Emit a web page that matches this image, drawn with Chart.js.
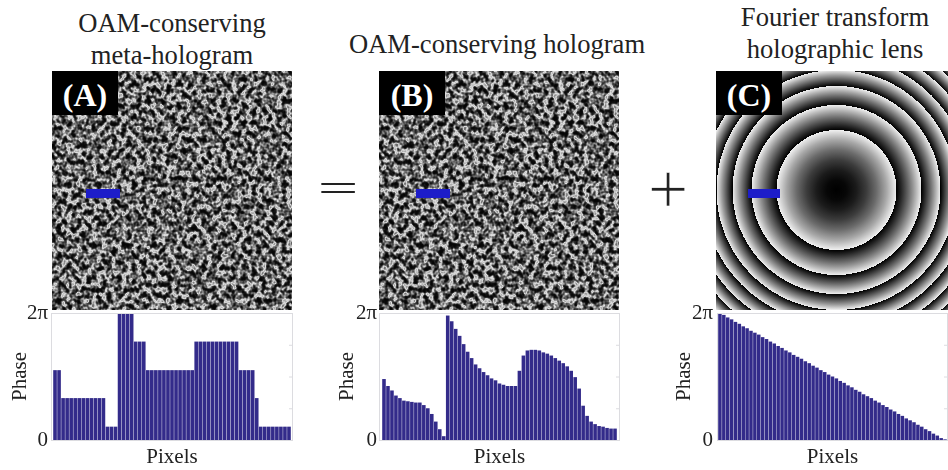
<!DOCTYPE html>
<html>
<head>
<meta charset="utf-8">
<script src="https://cdn.jsdelivr.net/npm/chart.js@4"></script>
<style>
  html, body { margin: 0; background: #fff; }
  #page { position: relative; width: 948px; height: 470px; overflow: hidden; font-family: "Liberation Serif", serif; color: #222; }
  .title { position: absolute; font-size: 26.6px; line-height: 32px; text-align: center; white-space: nowrap; transform: translateX(-50%); }
  .panel { position: absolute; top: 71px; height: 239px; overflow: hidden; }
  .tag { position: absolute; top: 71px; width: 66px; height: 44px; background: #000; color: #fff; font-weight: bold; font-size: 32px; line-height: 48px; text-align: center; }
  .mark { position: absolute; top: 189px; height: 9px; background: #1d1dc9; filter: blur(0.5px); }
  .sign { position: absolute; line-height: 72px; color: #222; }
  canvas { position: absolute; top: 300px; filter: blur(0.5px); }
  svg { display: block; }
</style>
</head>
<body>
<div id="page">
  <div class="title" style="left:172px;top:7px">OAM-conserving<br>meta-hologram</div>
  <div class="title" style="left:497px;top:28px">OAM-conserving hologram</div>
  <div class="title" style="left:835px;top:1px">Fourier transform<br>holographic lens</div>

  <div class="panel" style="left:52px;width:240px"><svg width="240" height="239"><rect width="240" height="239" filter="url(#holo)"/></svg></div>
  <div class="panel" style="left:379px;width:240px"><svg width="240" height="239"><rect width="240" height="239" filter="url(#holo)"/></svg></div>
  <div class="panel" id="lens" style="left:716px;width:232px"></div>

  <svg width="0" height="0" style="position:absolute">
    <filter id="holo" x="0" y="0" width="100%" height="100%" color-interpolation-filters="sRGB">
      <feTurbulence type="fractalNoise" baseFrequency="0.2 0.18" numOctaves="2" seed="7"/>
      <feColorMatrix type="matrix" values="1 0 0 0 0  1 0 0 0 0  1 0 0 0 0  0 0 0 0 1"/>
      <feComponentTransfer>
        <feFuncR type="table" tableValues="0.02 0.02 0.02 0.03 0.08 0.25 0.52 0.88 0.72 0.45 0.4 0.4"/>
        <feFuncG type="table" tableValues="0.02 0.02 0.02 0.03 0.08 0.25 0.52 0.88 0.72 0.45 0.4 0.4"/>
        <feFuncB type="table" tableValues="0.02 0.02 0.02 0.03 0.08 0.25 0.52 0.88 0.72 0.45 0.4 0.4"/>
      </feComponentTransfer>
      <feGaussianBlur stdDeviation="0.7"/>
    </filter>
  </svg>

  <div class="tag" style="left:52px">(A)</div>
  <div class="tag" style="left:379px">(B)</div>
  <div class="tag" style="left:716px">(C)</div>

  <div class="mark" style="left:86px;width:34px"></div>
  <div class="mark" style="left:416px;width:34px"></div>
  <div class="mark" style="left:748px;width:32px"></div>

  <div class="sign" style="left:338px;top:153px;font-size:40px;transform:translateX(-50%) scaleX(1.8)">=</div>
  <div class="sign" style="left:668px;top:153px;font-size:72px;transform:translateX(-50%);-webkit-text-stroke:0.7px #fff">+</div>

  <canvas id="chartA" width="310" height="170" style="left:0"></canvas>
  <canvas id="chartB" width="310" height="170" style="left:330px"></canvas>
  <canvas id="chartC" width="278" height="170" style="left:670px"></canvas>
</div>

<script>
// Pha doc tu hinh, don vi la pi (2 = 2π)
const metaPhase = [
  1.10, 1.10,
  0.66, 0.66, 0.66, 0.66, 0.66, 0.66, 0.66, 0.66, 0.66, 0.66, 0.66,
  0.21, 0.21, 0.21,
  2.00, 2.00, 2.00, 2.00,
  1.55, 1.55, 1.55,
  1.10, 1.10, 1.10, 1.10, 1.10, 1.10, 1.10, 1.10, 1.10, 1.10, 1.10, 1.10,
  1.55, 1.55, 1.55, 1.55, 1.55, 1.55, 1.55, 1.55, 1.55, 1.55, 1.55,
  1.10, 1.10, 1.10, 1.10,
  0.66,
  0.21, 0.21, 0.21, 0.21, 0.21, 0.21, 0.21, 0.21
];
const holoPhase = [
  0.96, 0.85, 0.78, 0.70, 0.66, 0.62, 0.61, 0.60, 0.59, 0.59, 0.55, 0.50, 0.41, 0.29, 0.17, 0.06,
  1.96, 1.87, 1.75, 1.64, 1.51, 1.39, 1.29, 1.19, 1.13, 1.07, 1.02, 0.97, 0.94, 0.89, 0.87, 0.85, 0.85, 0.85,
  1.09, 1.33, 1.41, 1.42, 1.42, 1.41, 1.38, 1.36, 1.33, 1.29, 1.25, 1.21, 1.16, 1.09, 0.99, 0.81, 0.54,
  0.38, 0.29, 0.25, 0.22, 0.21, 0.19, 0.18, 0.18
];
const lensPhase = [
  2.00, 1.97, 1.93, 1.90, 1.86, 1.83, 1.79, 1.76, 1.72, 1.69,
  1.66, 1.62, 1.59, 1.55, 1.52, 1.48, 1.45, 1.41, 1.38, 1.34,
  1.31, 1.28, 1.24, 1.21, 1.17, 1.14, 1.10, 1.07, 1.03, 1.00,
  0.97, 0.93, 0.90, 0.86, 0.83, 0.79, 0.76, 0.72, 0.69, 0.66,
  0.62, 0.59, 0.55, 0.52, 0.48, 0.45, 0.41, 0.38, 0.34, 0.31,
  0.28, 0.24, 0.21, 0.17, 0.14, 0.10, 0.07, 0.03, 0.01
];
const yTicks = [0, 0.5, 1, 1.5, 2];
const ringRadii = [0, 60, 85, 104, 120, 134, 147, 159, 170, 180, 190];

// Khung va vach mo quanh vung ve
const framePlugin = {
  id: 'frame',
  afterDraw(chart, args, opts) {
    const { ctx, chartArea: a, scales } = chart;
    const l = a.left - opts.padLeft, r = a.right + opts.padRight;
    ctx.save();
    ctx.strokeStyle = '#dcdce0';
    ctx.lineWidth = 1;
    ctx.strokeRect(l + 0.5, a.top + 0.5, r - l - 1, a.bottom - a.top);
    yTicks.forEach(v => {
      const y = scales.y.getPixelForValue(v) + 0.5;
      ctx.beginPath();
      ctx.moveTo(r - 4, y);
      ctx.lineTo(r, y);
      ctx.stroke();
    });
    ctx.restore();
  }
};

function makeChart(id, values, yWidth, titleTop, pad, frame) {
  new Chart(document.getElementById(id), {
    type: 'bar',
    data: {
      labels: values.map((v, i) => i + 1),
      datasets: [{ data: values, backgroundColor: '#332b8a', barPercentage: 0.9, categoryPercentage: 1 }]
    },
    options: {
      responsive: false,
      animation: false,
      layout: { padding: pad },
      plugins: { legend: { display: false }, tooltip: { enabled: false }, frame: frame },
      scales: {
        x: {
          afterFit: axis => { axis.height = 30; },
          grid: { display: false, drawTicks: false },
          border: { display: false },
          ticks: { display: false },
          title: { display: true, text: 'Pixels', color: '#222', padding: { top: 1, bottom: 0 }, font: { family: 'Liberation Serif', size: 21 } }
        },
        y: {
          min: 0,
          max: 2,
          afterBuildTicks: axis => { axis.ticks = yTicks.map(v => ({ value: v })); },
          afterFit: axis => { axis.width = yWidth; },
          // tickLength chi de day nhan ra xa, ticks.padding = 0 de vung ve khong bi thu lai
          grid: { display: false, drawTicks: true, tickLength: 5 },
          border: { display: false },
          ticks: {
            autoSkip: false,
            padding: 0,
            color: '#222',
            font: { family: 'Liberation Serif', size: 21 },
            callback: v => (v === 2 ? '2π' : v === 0 ? '0' : '')
          },
          title: { display: true, text: 'Phase', color: '#222', padding: { top: titleTop, bottom: 0 }, font: { family: 'Liberation Serif', size: 21 } }
        }
      }
    },
    plugins: [framePlugin]
  });
}

makeChart('chartA', metaPhase, 53, 8, { left: 0, right: 19, top: 13, bottom: 0 }, { padLeft: 2, padRight: 2 });
makeChart('chartB', holoPhase, 52, 5, { left: 0, right: 23, top: 13, bottom: 0 }, { padLeft: 3, padRight: 3 });
makeChart('chartC', lensPhase, 48, 2, { left: 0, right: 1, top: 13, bottom: 0 }, { padLeft: 1, padRight: 1 });

// Vong thau kinh: do xam tang theo r^2 trong moi vong
const lensStops = [];
for (let i = 1; i < ringRadii.length; i++) {
  const r0 = ringRadii[i - 1], r1 = ringRadii[i];
  for (let k = 0; k <= 6; k++) {
    const r = r0 + (r1 - r0) * k / 6;
    const g = Math.round(240 * (r * r - r0 * r0) / (r1 * r1 - r0 * r0));
    lensStops.push(`rgb(${g},${g},${g}) ${r.toFixed(1)}px`);
  }
}
document.getElementById('lens').style.background =
  `radial-gradient(circle 190px at 120.5px 119px, ${lensStops.join(', ')})`;
document.getElementById('lens').style.filter = 'blur(0.4px)';
</script>
</body>
</html>
